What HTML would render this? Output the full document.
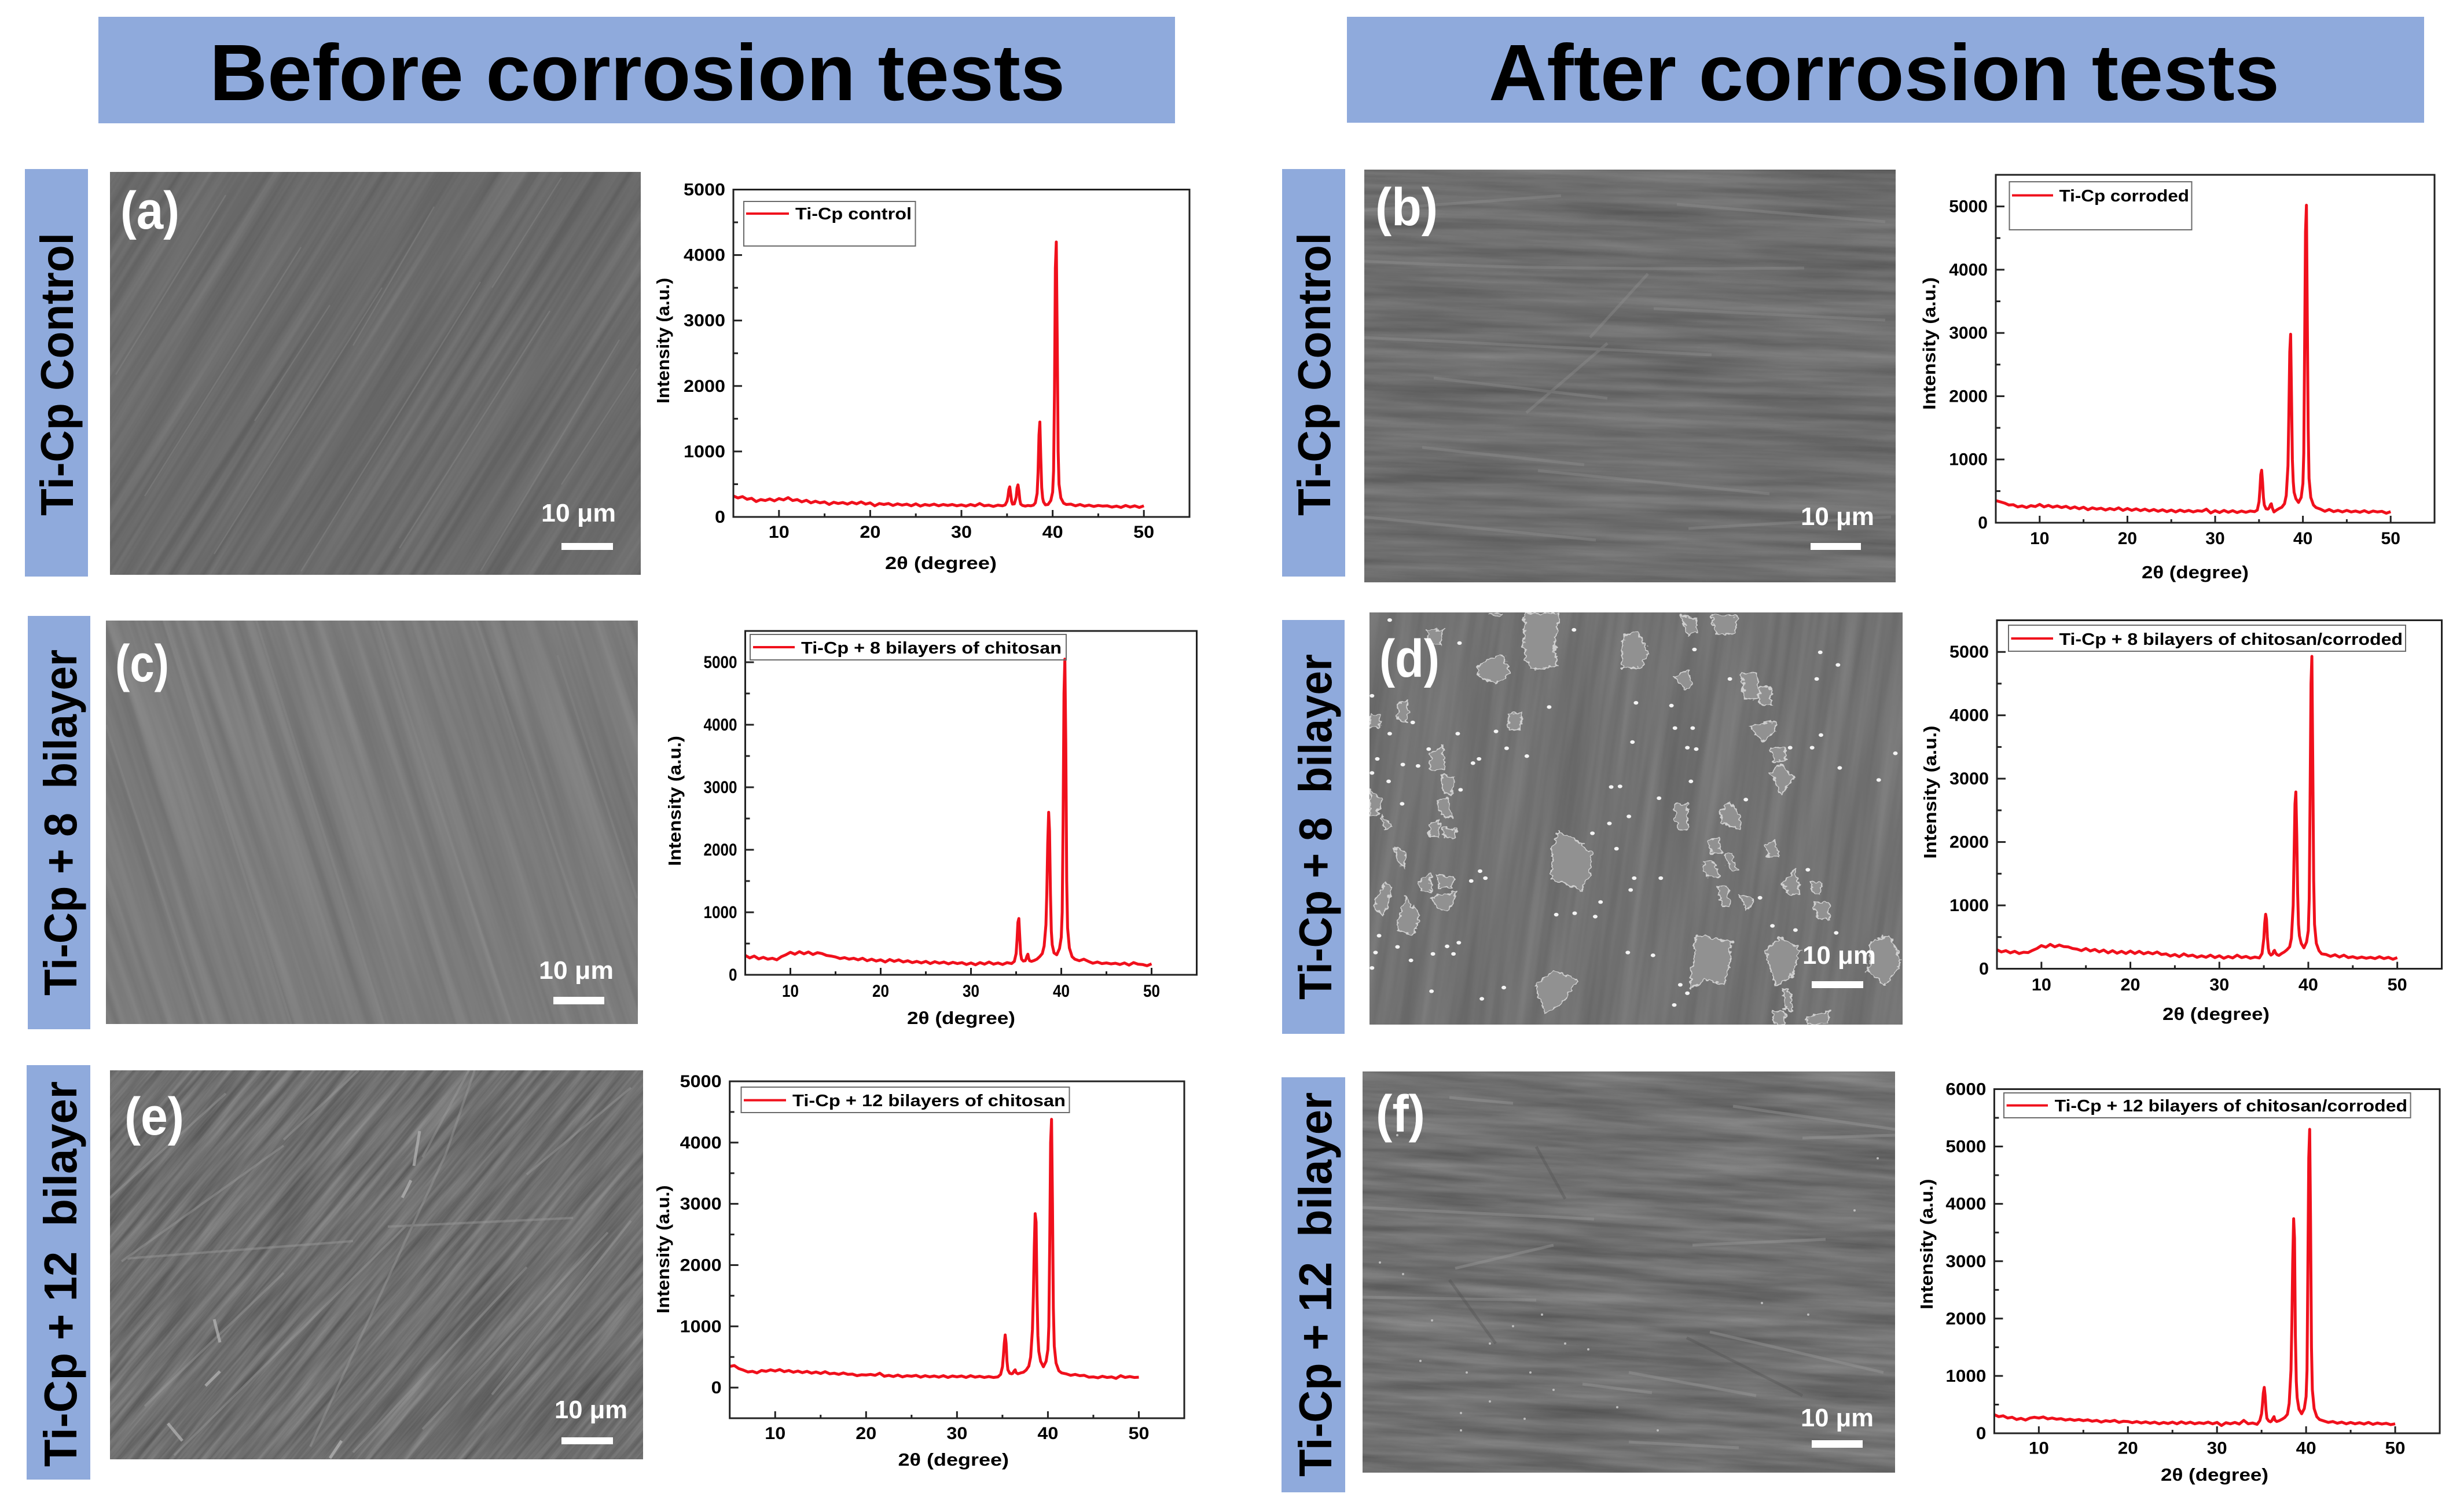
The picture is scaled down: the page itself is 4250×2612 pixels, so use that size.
<!DOCTYPE html>
<html lang="en">
<head>
<meta charset="utf-8">
<title>SEM and XRD before and after corrosion tests</title>
<style>
html,body{margin:0;padding:0;background:#fff;width:4250px;height:2612px;overflow:hidden}
svg{display:block}
#figure{overflow:hidden}
text{font-family:"Liberation Sans",sans-serif;font-weight:700}
</style>
</head>
<body>
<svg id="figure" xmlns="http://www.w3.org/2000/svg" width="4250" height="2612" viewBox="0 0 4250 2612">
<defs>
<filter id="sem-a" x="0" y="0" width="1" height="1" color-interpolation-filters="sRGB"><feTurbulence type="fractalNoise" baseFrequency=".0015 .07" numOctaves="3" seed="3"/><feColorMatrix values=".13 0 0 0 .352 .13 0 0 0 .352 .13 0 0 0 .352 0 0 0 0 1"/></filter>
<filter id="sem-b" x="0" y="0" width="1" height="1" color-interpolation-filters="sRGB"><feTurbulence type="fractalNoise" baseFrequency=".003 .05" numOctaves="4" seed="8"/><feColorMatrix values=".2 0 0 0 .331 .2 0 0 0 .331 .2 0 0 0 .331 0 0 0 0 1"/></filter>
<filter id="sem-c" x="0" y="0" width="1" height="1" color-interpolation-filters="sRGB"><feTurbulence type="fractalNoise" baseFrequency=".05 .0015" numOctaves="3" seed="5"/><feColorMatrix values=".12 0 0 0 .425 .12 0 0 0 .425 .12 0 0 0 .425 0 0 0 0 1"/></filter>
<filter id="sem-d" x="0" y="0" width="1" height="1" color-interpolation-filters="sRGB"><feTurbulence type="fractalNoise" baseFrequency=".04 .002" numOctaves="3" seed="11"/><feColorMatrix values=".13 0 0 0 .38 .13 0 0 0 .38 .13 0 0 0 .38 0 0 0 0 1"/></filter>
<filter id="sem-e" x="0" y="0" width="1" height="1" color-interpolation-filters="sRGB"><feTurbulence type="fractalNoise" baseFrequency=".075 .006" numOctaves="4" seed="14"/><feColorMatrix values=".27 0 0 0 .3 .27 0 0 0 .3 .27 0 0 0 .3 0 0 0 0 1"/></filter>
<filter id="sem-f" x="0" y="0" width="1" height="1" color-interpolation-filters="sRGB"><feTurbulence type="fractalNoise" baseFrequency=".004 .05" numOctaves="4" seed="21"/><feColorMatrix values=".24 0 0 0 .32 .24 0 0 0 .32 .24 0 0 0 .32 0 0 0 0 1"/></filter>
<filter id="rough" x="-5%" y="-5%" width="110%" height="110%"><feTurbulence type="fractalNoise" baseFrequency=".06" numOctaves="2" seed="4" result="n"/><feDisplacementMap in="SourceGraphic" in2="n" scale="22" xChannelSelector="R" yChannelSelector="G"/></filter>
</defs>

<!-- column headers -->
<g>
<rect x="170" y="29" width="1860" height="184" fill="#8faadc"/>
<text x="362" y="173" font-size="138" textLength="1478" lengthAdjust="spacingAndGlyphs" fill="#000">Before corrosion tests</text>
</g>
<g>
<rect x="2327" y="29" width="1861" height="183" fill="#8faadc"/>
<text x="2572" y="173" font-size="138" textLength="1366" lengthAdjust="spacingAndGlyphs" fill="#000">After corrosion tests</text>
</g>

<!-- row labels -->
<g><rect x="43" y="292" width="109" height="704" fill="#8faadc"/><text transform="translate(126 891) rotate(-90)" font-size="80" textLength="489" lengthAdjust="spacingAndGlyphs">Ti-Cp Control</text></g>
<g><rect x="2215" y="292" width="109" height="704" fill="#8faadc"/><text transform="translate(2298 891) rotate(-90)" font-size="80" textLength="489" lengthAdjust="spacingAndGlyphs">Ti-Cp Control</text></g>
<g><rect x="48" y="1064" width="108" height="714" fill="#8faadc"/><text transform="translate(132 1720) rotate(-90)" font-size="80" textLength="598" lengthAdjust="spacingAndGlyphs" style="white-space:pre">Ti-Cp + 8  bilayer</text></g>
<g><rect x="2215" y="1071" width="108" height="715" fill="#8faadc"/><text transform="translate(2300 1727) rotate(-90)" font-size="80" textLength="597" lengthAdjust="spacingAndGlyphs" style="white-space:pre">Ti-Cp + 8  bilayer</text></g>
<g><rect x="46" y="1840" width="110" height="716" fill="#8faadc"/><text transform="translate(132 2534) rotate(-90)" font-size="80" textLength="666" lengthAdjust="spacingAndGlyphs" style="white-space:pre">Ti-Cp + 12  bilayer</text></g>
<g><rect x="2214" y="1861" width="110" height="717" fill="#8faadc"/><text transform="translate(2300 2551) rotate(-90)" font-size="80" textLength="664" lengthAdjust="spacingAndGlyphs" style="white-space:pre">Ti-Cp + 12  bilayer</text></g>

<!-- SEM panel a -->
<svg x="190" y="297" width="917" height="696">
<rect width="917" height="696" fill="#6a6a6a"/>
<rect x="-241" y="-352" width="1400" height="1400" transform="rotate(-58 458 348)" filter="url(#sem-a)"/>
<path d="M60 560L330 130M180 660L470 200M330 690L640 190M500 650L760 240M640 690L880 290M10 350L200 40M420 300L560 60M660 200L780 10M250 430L380 230M780 540L910 340" stroke="#8c8c8c" stroke-width="2.5" fill="none" opacity=".4"/>
</svg>
<g><text x="208" y="395" font-size="92" fill="#fff" textLength="102" lengthAdjust="spacingAndGlyphs">(a)</text></g>
<g><text x="935" y="901" font-size="44" fill="#fff" textLength="129" lengthAdjust="spacingAndGlyphs">10 μm</text><rect x="970" y="938" width="89" height="12" fill="#fff"/></g>

<!-- SEM panel b -->
<svg x="2357" y="293" width="918" height="713">
<rect width="918" height="713" fill="#6e6e6e"/>
<rect x="-41" y="-144" width="1000" height="1000" transform="rotate(2 459 356)" filter="url(#sem-b)"/>
<path d="M0 158Q300 175 760 170M120 360L420 395M0 290L600 320M300 520L700 560M100 480L380 510M540 60L900 90M500 240L900 260M0 70L340 45M560 620L910 600M0 600L400 640M280 420L420 300M390 290L490 180" stroke="#969696" stroke-width="5" fill="none" opacity=".35"/>
</svg>
<g><text x="2376" y="389" font-size="92" fill="#fff" textLength="108" lengthAdjust="spacingAndGlyphs">(b)</text></g>
<g><text x="3111" y="907" font-size="44" fill="#fff" textLength="127" lengthAdjust="spacingAndGlyphs">10 μm</text><rect x="3128" y="938" width="87" height="12" fill="#fff"/></g>

<!-- SEM panel c -->
<svg x="183" y="1072" width="919" height="697">
<rect width="919" height="697" fill="#7a7a7a"/>
<rect x="-230" y="0" width="1150" height="697" transform="skewX(18)" filter="url(#sem-c)"/>
<path d="M100 0L320 697M260 0L480 697M470 0L700 697M640 0L880 697M0 180L170 697M780 60L917 480" stroke="#8e8e8e" stroke-width="4" fill="none" opacity=".3"/>
</svg>
<g><text x="199" y="1177" font-size="90" fill="#fff" textLength="93" lengthAdjust="spacingAndGlyphs">(c)</text></g>
<g><text x="931" y="1691" font-size="44" fill="#fff" textLength="129" lengthAdjust="spacingAndGlyphs">10 μm</text><rect x="956" y="1722" width="88" height="13" fill="#fff"/></g>

<!-- SEM panel d -->
<svg x="2366" y="1058" width="921" height="712">
<rect width="921" height="712" fill="#717171"/>
<rect x="0" y="0" width="1025" height="712" transform="skewX(-8)" filter="url(#sem-d)"/>
<g transform="translate(-26.3 -18.4) scale(.6122 .4847)">
<g filter="url(#rough)" fill="#919191" stroke="#cfcfcf" stroke-width="4" stroke-linejoin="round">
<polygon points="480,40 575,40 575,110 565,150 570,230 500,240 480,190"/>
<polygon points="760,120 800,105 830,180 810,235 755,235"/>
<polygon points="345,235 375,205 420,190 440,250 400,290 355,270"/>
<polygon points="920,45 965,60 970,110 940,115"/>
<polygon points="1010,45 1080,50 1075,115 1020,115"/>
<polygon points="900,265 940,245 955,295 930,315"/>
<polygon points="1095,255 1140,255 1140,345 1100,345"/>
<polygon points="1140,305 1175,300 1178,368 1145,365"/>
<polygon points="1118,445 1185,425 1190,460 1150,498"/>
<polygon points="1175,525 1215,520 1220,565 1185,570"/>
<polygon points="1175,610 1205,580 1240,625 1205,690"/>
<polygon points="205,100 250,100 240,155 210,150"/>
<polygon points="435,400 470,395 470,450 435,460"/>
<polygon points="215,540 250,515 258,595 215,600"/>
<polygon points="245,615 280,625 275,690 250,675"/>
<polygon points="45,400 75,405 70,450 45,445"/>
<polygon points="905,720 940,720 940,810 910,810"/>
<polygon points="1030,745 1060,715 1090,770 1085,810 1040,790"/>
<polygon points="560,880 575,815 640,860 670,900 665,970 640,1030 590,1000 555,990"/>
<polygon points="1000,850 1030,840 1035,895 1005,895"/>
<polygon points="1160,870 1185,850 1198,910 1170,910"/>
<polygon points="985,925 1015,930 1030,980 990,980"/>
<polygon points="1045,895 1065,895 1080,960 1060,960"/>
<polygon points="1025,1010 1050,1010 1060,1085 1040,1085"/>
<polygon points="1085,1040 1130,1060 1110,1100"/>
<polygon points="1210,1000 1245,950 1255,1040 1225,1045"/>
<polygon points="1290,1000 1320,1000 1315,1045 1295,1045"/>
<polygon points="1295,1070 1340,1075 1340,1130 1310,1130"/>
<polygon points="60,1060 90,1000 110,1020 80,1120 60,1095"/>
<polygon points="125,1140 145,1050 185,1120 165,1190 125,1170"/>
<polygon points="180,1000 215,965 220,1035 190,1030"/>
<polygon points="235,975 280,980 275,1020 240,1020"/>
<polygon points="220,1050 270,1040 290,1030 265,1100 235,1095"/>
<polygon points="965,1190 1065,1210 1060,1290 1045,1365 990,1345 950,1380 950,1320"/>
<polygon points="1160,1245 1200,1195 1260,1240 1230,1340 1190,1370"/>
<polygon points="1460,1210 1510,1190 1545,1280 1500,1365 1450,1320"/>
<polygon points="510,1370 560,1315 630,1345 590,1430 540,1465"/>
<polygon points="1210,1375 1235,1400 1235,1460 1215,1450"/>
<polygon points="1180,1460 1215,1460 1215,1505 1185,1505"/>
<polygon points="1280,1480 1340,1460 1340,1505 1280,1505"/>
<polygon points="380,40 420,40 405,55"/>
<polygon points="125,365 150,350 150,430 120,420"/>
<polygon points="45,670 80,710 60,760 45,760"/>
<polygon points="235,710 265,700 275,770 245,760"/>
<polygon points="75,760 110,800 85,810"/>
<polygon points="210,790 240,780 240,840 215,840"/>
<polygon points="250,805 285,810 285,845 255,845"/>
<polygon points="115,880 145,890 140,950 125,925"/>
</g>
<path stroke="#f4f4f4" stroke-width="13" stroke-linecap="round" fill="none" d="M100 65h0M620 100h0M297 147h0M960 170h0M1315 180h0M1365 225h0M1305 275h0M1060 275h0M550 375h0M795 360h0M895 370h0M292 470h0M400 462h0M905 450h0M955 450h0M1317 475h0M785 500h0M430 522h0M487 550h0M940 520h0M965 525h0M1292 520h0M1230 520h0M1527 540h0M1370 592h0M352 560h0M335 575h0M65 560h0M137 580h0M950 640h0M1480 635h0M725 660h0M750 658h0M860 700h0M1105 705h0M775 765h0M720 790h0M355 960h0M330 995h0M370 985h0M865 985h0M790 985h0M780 1027h0M740 880h0M672 825h0M570 1115h0M622 1110h0M680 1122h0M695 1070h0M772 1250h0M843 1260h0M422 1375h0M360 1415h0M903 1437h0M218 1388h0M160 1278h0M295 1215h0M262 1228h0M222 1255h0M280 1255h0M122 1230h0M60 1250h0M70 1190h0M50 1305h0M1145 1055h0M1245 1170h0M1280 955h0M1180 1155h0M940 1395h0M920 1365h0M300 670h0M97 640h0M210 525h0M135 720h0M180 585h0M100 470h0M165 430h0M50 610h0M50 335h0M1360 1180h0"/>
</g>
</svg>
<g><text x="2383" y="1169" font-size="92" fill="#fff" textLength="104" lengthAdjust="spacingAndGlyphs">(d)</text></g>
<g><text x="3114" y="1665" font-size="44" fill="#fff" textLength="127" lengthAdjust="spacingAndGlyphs">10 μm</text><rect x="3130" y="1695" width="89" height="12" fill="#fff"/></g>

<!-- SEM panel e -->
<svg x="190" y="1849" width="921" height="672">
<rect width="921" height="672" fill="#6f6f6f"/>
<rect x="0" y="0" width="1490" height="672" transform="skewX(-40)" filter="url(#sem-e)"/>
<path d="M630 0L580 145L433 461L346 650M111 665L513 267M620 0L540 150M20 330L300 130M60 580L300 350M420 660L720 340M540 620L860 280M660 560L900 260M0 220L200 40M300 120L430 0M720 180L900 30M30 325L420 295M480 270L800 255" stroke="#9c9c9c" stroke-width="4" fill="none" opacity=".45"/>
<path d="M100 610L125 640M165 545L190 520M180 430L190 470M525 165L535 105M505 220L520 190M380 670L400 640" stroke="#b8b8b8" stroke-width="5" fill="none" opacity=".7"/>
</svg>
<g><text x="215" y="1960" font-size="92" fill="#fff" textLength="103" lengthAdjust="spacingAndGlyphs">(e)</text></g>
<g><text x="958" y="2450" font-size="44" fill="#fff" textLength="126" lengthAdjust="spacingAndGlyphs">10 μm</text><rect x="970" y="2483" width="89" height="12" fill="#fff"/></g>

<!-- SEM panel f -->
<svg x="2354" y="1851" width="920" height="693">
<rect width="920" height="693" fill="#707070"/>
<rect x="0" y="-50" width="920" height="743" transform="skewY(3)" filter="url(#sem-f)"/>
<path d="M460 520L680 560M380 540L500 555M460 640L650 650M570 300L800 290M0 390L300 395M640 60L920 100M150 45L260 55M0 235L400 255M600 450L900 520M760 115L920 110M160 340L330 300" stroke="#9e9e9e" stroke-width="5" fill="none" opacity=".4"/>
<path d="M300 130L350 220M150 360L230 470M560 460L760 560" stroke="#4c4c4c" stroke-width="5" fill="none" opacity=".35"/>
<path stroke="#bdbdbd" stroke-width="4" stroke-linecap="round" fill="none" d="M100 500h0M180 520h0M220 570h0M280 600h0M170 590h0M350 470h0M390 480h0M330 550h0M290 520h0M30 330h0M70 350h0M260 440h0M310 420h0M440 580h0M170 620h0M510 620h0M120 430h0M220 470h0M60 110h0M850 240h0M890 150h0M770 420h0M690 400h0"/>
</svg>
<g><text x="2377" y="1955" font-size="90" fill="#fff" textLength="85" lengthAdjust="spacingAndGlyphs">(f)</text></g>
<g><text x="3111" y="2464" font-size="44" fill="#fff" textLength="126" lengthAdjust="spacingAndGlyphs">10 μm</text><rect x="3130" y="2488" width="88" height="13" fill="#fff"/></g>

<!-- XRD chart containers -->
<g id="chart-a"></g>
<g id="chart-b"></g>
<g id="chart-c"></g>
<g id="chart-d"></g>
<g id="chart-e"></g>
<g id="chart-f"></g>
</svg>

<script>
// ---- chart data (2-theta in degrees, intensity in a.u.) ----
const twoTheta = [
5,5.5,6,6.5,7,7.5,8,8.5,9,9.5,
10,10.5,11,11.5,12,12.5,13,13.5,14,14.5,
15,15.5,16,16.5,17,17.5,18,18.5,19,19.5,
20,20.5,21,21.5,22,22.5,23,23.5,24,24.5,
25,25.5,26,26.5,27,27.5,28,28.5,29,29.5,
30,30.5,31,31.5,32,32.5,33,33.5,34,34.5,
34.8,35.0,35.1,35.2,35.3,35.4,35.5,35.6,
35.8,36.0,36.1,36.2,36.3,36.4,36.5,36.7,
37.0,37.3,37.6,37.9,38.1,38.3,38.4,38.5,
38.6,38.7,38.8,38.9,39.0,39.2,39.5,39.8,
40.0,40.1,40.2,40.3,40.4,40.5,40.6,40.7,
40.9,41.2,41.5,
42,42.5,43,43.5,44,44.5,45,45.5,46,46.5,47,47.5,48,48.5,49,49.5,50];

const intensityA = [
320,290,310,270,285,235,265,250,275,245,
280,260,295,250,265,230,255,215,240,215,
230,190,225,205,220,195,225,200,230,195,
215,170,205,190,205,175,200,180,195,170,
200,165,190,175,195,170,190,175,190,170,
185,165,190,170,205,170,180,160,180,170,
185,240,310,420,460,350,240,195,
200,300,440,490,400,260,195,175,
165,175,170,180,215,360,680,1250,
1450,900,450,290,230,185,190,250,
380,700,1900,3800,4200,2700,1000,500,
290,210,190,
195,170,190,165,180,160,175,165,170,150,165,145,175,150,170,145,170];

const intensityB = [
350,330,310,280,285,250,265,240,270,255,
290,250,275,245,265,240,260,225,250,220,
245,205,235,215,230,200,225,205,235,195,
225,195,220,190,215,185,210,180,205,175,
200,170,200,175,195,170,190,180,215,155,
190,160,195,165,190,160,185,165,185,175,
200,330,520,760,830,640,400,280,
220,215,225,250,285,300,240,170,
200,225,245,300,430,900,1700,2700,
2980,2000,1000,650,480,380,320,400,
620,1100,2800,4600,5020,3200,1500,700,
400,280,240,
215,180,210,175,195,170,195,170,185,165,190,160,185,170,180,150,175];

const intensityC = [
310,270,300,255,280,250,265,240,290,320,
360,330,370,335,365,325,355,340,310,300,
285,260,275,250,265,240,265,225,250,220,
240,205,245,215,240,205,225,195,215,190,
215,180,210,185,205,175,200,180,195,165,
190,160,195,170,205,170,190,165,195,180,
215,340,560,840,900,620,340,250,
220,225,255,300,330,260,225,215,
230,250,290,340,460,800,1300,2100,
2600,2300,1300,700,480,350,320,420,
600,1000,2400,4500,5050,3700,1500,750,
430,290,250,
225,250,215,185,205,180,190,175,185,165,190,155,195,170,165,145,175];

const intensityD = [
300,265,285,250,275,240,260,255,290,320,
365,340,385,345,375,350,345,320,310,285,
320,280,305,265,295,250,285,245,275,240,
280,240,275,235,260,235,265,225,235,200,
225,190,235,200,215,180,205,180,215,175,
205,165,195,170,215,175,195,165,185,170,
240,480,720,860,780,500,320,250,
215,235,275,290,255,235,220,210,
240,265,300,345,480,1000,1800,2600,
2790,2100,1200,700,520,400,330,420,
600,1100,2700,4500,4930,3300,1400,700,
400,285,235,
225,195,220,185,215,175,190,165,185,165,180,160,190,160,180,150,175];

const intensityE = [
345,360,310,285,255,265,240,280,265,290,
270,295,260,280,250,270,245,265,235,255,
230,260,225,235,215,240,215,220,195,210,
205,215,200,235,185,200,180,205,175,195,
185,200,170,195,175,190,170,195,165,190,
175,190,165,195,170,185,165,180,165,175,
215,340,520,720,860,720,430,290,
235,225,230,250,275,290,245,225,
240,250,285,350,500,950,1500,2300,
2840,2700,1500,850,590,430,340,430,
620,1000,2400,4000,4380,3000,1300,680,
400,275,240,
225,200,215,195,200,170,175,160,185,165,175,150,195,165,180,165,170];

const intensityF = [
325,290,305,265,280,240,260,230,265,280,
265,285,250,265,245,255,230,245,225,240,
220,235,210,225,195,220,205,225,190,210,
205,185,205,180,200,175,195,165,190,170,
195,165,200,170,195,165,185,170,195,165,
190,135,185,165,190,160,225,165,180,155,
220,340,500,700,800,660,400,260,
215,200,210,235,265,290,230,205,
220,245,275,330,520,1100,1900,3000,
3740,3400,1700,900,620,420,340,430,
640,1100,2900,4800,5300,3700,1500,760,
430,290,240,
215,190,205,175,195,165,190,165,185,160,190,155,180,160,175,150,165];

const xDomain = [5, 55];
const xMajorTicks = [10, 20, 30, 40, 50];
const xMinorTicks = [15, 25, 35, 45];
const yMajorToFiveK = [0, 1000, 2000, 3000, 4000, 5000];
const yMinorToFiveK = [500, 1500, 2500, 3500, 4500];
const yMajorToSixK = [0, 1000, 2000, 3000, 4000, 5000, 6000];
const yMinorToSixK = [500, 1500, 2500, 3500, 4500, 5500];
const legendLabels = {
  a: 'Ti-Cp control',
  b: 'Ti-Cp corroded',
  c: 'Ti-Cp + 8 bilayers of chitosan',
  d: 'Ti-Cp + 8 bilayers of chitosan/corroded',
  e: 'Ti-Cp + 12 bilayers of chitosan',
  f: 'Ti-Cp + 12 bilayers of chitosan/corroded'
};

// ---- layout (frame geometry only) ----
const chartLayouts = [
 {id:'a',series:intensityA,yDomain:[0,5000],yMajor:yMajorToFiveK,yMinor:yMinorToFiveK,box:[1267,2055,327.5,893],digit:18,
  legend:[1285,348,296.5,77,1289,1363,369,1374,379,201],tickX:929,yTitle:[1156,697,217],xTitle:[1529,983,193]},
 {id:'b',series:intensityB,yDomain:[0,5500],yMajor:yMajorToFiveK,yMinor:yMinorToFiveK,box:[3448,4206,302,903],digit:16.7,
  legend:[3471.5,314,315,83,3476,3547,337.5,3557.5,348,224.5],tickX:940,yTitle:[3343.6,708,229],xTitle:[3700,999,185]},
 {id:'c',series:intensityC,yDomain:[0,5500],yMajor:yMajorToFiveK,yMinor:yMinorToFiveK,box:[1287.5,2067.5,1090,1684],digit:14.5,
  legend:[1296,1096,546,44,1301,1373,1118,1384,1129,450],tickX:1722,yTitle:[1176,1496,225],xTitle:[1567,1769,187]},
 {id:'d',series:intensityD,yDomain:[0,5500],yMajor:yMajorToFiveK,yMinor:yMinorToFiveK,box:[3450,4218.5,1071.5,1673.5],digit:17,
  legend:[3470,1080,686,45,3474.5,3547,1103,3557.5,1114,593.5],tickX:1711,yTitle:[3345,1483.5,230],xTitle:[3736,1762,185]},
 {id:'e',series:intensityE,yDomain:[-500,5000],yMajor:yMajorToFiveK,yMinor:yMinorToFiveK,box:[1260.7,2046,1868,2450],digit:18,
  legend:[1280.5,1878,567,44,1285,1358,1900.6,1369,1911,472],tickX:2486,yTitle:[1156,2269,221.5],xTitle:[1551.5,2532,191.5]},
 {id:'f',series:intensityF,yDomain:[0,6000],yMajor:yMajorToSixK,yMinor:yMinorToSixK,box:[3445.4,4215,1881.5,2476],digit:17.5,
  legend:[3462,1888,702.6,43,3466.6,3538,1909.6,3549.6,1920,609.4],tickX:2511.6,yTitle:[3339,2262,225.4],xTitle:[3733,2558,186]}
];

const NS = 'http://www.w3.org/2000/svg';
function make(tag, attrs, parent) {
  const node = document.createElementNS(NS, tag);
  for (const key in attrs) node.setAttribute(key, attrs[key]);
  parent.appendChild(node);
  return node;
}

function drawChart(cfg) {
  const root = document.getElementById('chart-' + cfg.id);
  const [left, right, top, bottom] = cfg.box;
  const xScale = v => left + (v - xDomain[0]) / (xDomain[1] - xDomain[0]) * (right - left);
  const yScale = v => bottom - (v - cfg.yDomain[0]) / (cfg.yDomain[1] - cfg.yDomain[0]) * (bottom - top);
  let el;

  // spectrum line
  const pts = twoTheta.map((t, i) => xScale(t).toFixed(1) + ',' + yScale(cfg.series[i]).toFixed(1)).join(' ');
  el = make('polyline', {points: pts, fill: 'none', stroke: '#f0101c', 'stroke-width': 5, 'stroke-linejoin': 'round'}, root);
  
  

  // plot frame
  el = make('rect', {x: left, y: top, width: right - left, height: bottom - top, fill: 'none', stroke: '#222', 'stroke-width': 3}, root);
  
  

  // x ticks
  xMajorTicks.forEach(v => {
    el = make('line', {x1: xScale(v), x2: xScale(v), y1: bottom, y2: bottom - 12, stroke: '#222', 'stroke-width': 3}, root);
    
    
    const label = String(v);
    el = make('text', {x: xScale(v), y: cfg.tickX, 'font-size': 30, 'text-anchor': 'middle', textLength: label.length * cfg.digit, lengthAdjust: 'spacingAndGlyphs'}, root);
    el.textContent = label;
    
    
  });
  xMinorTicks.forEach(v => {
    el = make('line', {x1: xScale(v), x2: xScale(v), y1: bottom, y2: bottom - 6, stroke: '#222', 'stroke-width': 3}, root);
    
    
  });

  // y ticks
  cfg.yMajor.forEach(v => {
    el = make('line', {x1: left, x2: left + 15, y1: yScale(v), y2: yScale(v), stroke: '#222', 'stroke-width': 3}, root);
    
    
    const label = String(v);
    el = make('text', {x: left - 14, y: yScale(v) + 10, 'font-size': 30, 'text-anchor': 'end', textLength: label.length * cfg.digit, lengthAdjust: 'spacingAndGlyphs'}, root);
    el.textContent = label;
    
    
  });
  cfg.yMinor.forEach(v => {
    el = make('line', {x1: left, x2: left + 8, y1: yScale(v), y2: yScale(v), stroke: '#222', 'stroke-width': 3}, root);
    
    
  });

  // axis titles
  const [ytx, yty, ytl] = cfg.yTitle;
  el = make('text', {transform: 'translate(' + ytx + ' ' + yty + ') rotate(-90)', 'font-size': 31, textLength: ytl, lengthAdjust: 'spacingAndGlyphs'}, root);
  el.textContent = 'Intensity (a.u.)';
  
  

  const [xtx, xty, xtl] = cfg.xTitle;
  el = make('text', {x: xtx, y: xty, 'font-size': 31, textLength: xtl, lengthAdjust: 'spacingAndGlyphs'}, root);
  el.textContent = '2θ (degree)';
  
  

  // legend
  const [lx, ly, lw, lh, l1, l2, lineY, tx, ty, tl] = cfg.legend;
  el = make('rect', {x: lx, y: ly, width: lw, height: lh, fill: 'none', stroke: '#6a6a6a', 'stroke-width': 2}, root);
  
  
  el = make('line', {x1: l1, x2: l2, y1: lineY, y2: lineY, stroke: '#f0101c', 'stroke-width': 4}, root);
  
  
  el = make('text', {x: tx, y: ty, 'font-size': 29, textLength: tl, lengthAdjust: 'spacingAndGlyphs'}, root);
  el.textContent = legendLabels[cfg.id];
  
  
}

chartLayouts.forEach(drawChart);
</script>
</body>
</html>
